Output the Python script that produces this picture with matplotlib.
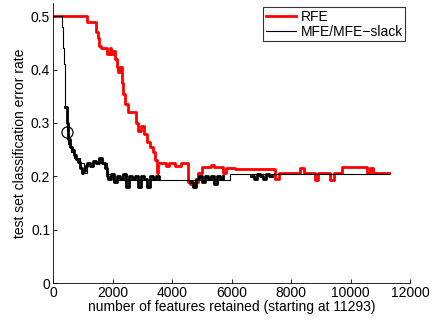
import matplotlib
matplotlib.use("Agg")
import matplotlib.pyplot as plt
import numpy as np

plt.rcParams['font.family'] = ['Liberation Sans', 'DejaVu Sans']

# RFE (red) step series
rfe_x = [0, 1150, 1450, 1500, 1550, 1600, 1820, 1900, 1950, 2000, 2100, 2150, 2200, 2250, 2320, 2360,
         2420, 2520, 2650, 2800, 2850, 2950, 3050, 3150, 3260, 3350, 3430, 3500, 3530, 3600, 3800,
         3900, 4100, 4300, 4540, 4600, 4770, 4870, 5000, 5300, 5400, 5700, 5800, 6120, 7460, 7600,
         7700, 8300, 8420, 8800, 8900, 9300, 9450, 9710, 10400, 10550, 10650, 10750, 11293]
rfe_y = [0.5, 0.49, 0.47, 0.46, 0.445, 0.44, 0.43, 0.44, 0.43, 0.435, 0.42, 0.405, 0.395, 0.405, 0.375, 0.355,
         0.335, 0.32, 0.32, 0.30, 0.285, 0.295, 0.28, 0.265, 0.255, 0.245, 0.23, 0.206, 0.225, 0.225, 0.22,
         0.225, 0.22, 0.225, 0.19, 0.185, 0.19, 0.206, 0.217, 0.222, 0.217, 0.206, 0.215, 0.213, 0.195, 0.206,
         0.206, 0.215, 0.206, 0.193, 0.206, 0.193, 0.206, 0.217, 0.217, 0.206, 0.215, 0.206, 0.206]

# MFE (thin black) series
mfe_x = [0, 290, 310, 330, 350, 380, 400, 420, 460, 520, 600, 700, 900, 1050, 1150, 1700, 1800, 2000,
         5950, 11293]
mfe_y = [0.5, 0.5, 0.48, 0.46, 0.44, 0.41, 0.37, 0.33, 0.285, 0.26, 0.245, 0.235, 0.225, 0.207, 0.225,
         0.225, 0.205, 0.193, 0.205, 0.205]

# MFE-slack (noisy black) segments
slack_a_x = [420, 470, 520, 570, 640, 700, 760, 840, 900, 970, 1000, 1075, 1140, 1250, 1350, 1450,
             1550, 1650, 1750, 1800, 1850, 1950, 2050, 2150, 2250, 2350, 2450, 2550, 2650, 2750, 2850,
             2950, 3050, 3150, 3250, 3350, 3450, 3550]
slack_a_y = [0.33, 0.30, 0.27, 0.255, 0.25, 0.24, 0.232, 0.227, 0.215, 0.207, 0.21, 0.22, 0.225,
             0.22, 0.228, 0.225, 0.235, 0.225, 0.215, 0.2, 0.195, 0.205, 0.19, 0.2, 0.195, 0.205, 0.18,
             0.2, 0.195, 0.2, 0.18, 0.2, 0.195, 0.18, 0.2, 0.195, 0.2, 0.195]
slack_b_x = [4600, 4700, 4800, 4900, 5000, 5100, 5200, 5300, 5400, 5500, 5600, 5700]
slack_b_y = [0.19, 0.18, 0.195, 0.2, 0.19, 0.2, 0.195, 0.2, 0.185, 0.2, 0.195, 0.2]
slack_c_x = [6650, 6750, 6850, 6950, 7050, 7150, 7250, 7350]
slack_c_y = [0.2, 0.195, 0.205, 0.2, 0.195, 0.205, 0.2, 0.2]

marker_x = [460]
marker_y = [0.283]

fig = plt.figure(figsize=(4.33, 3.23), dpi=100)
ax = fig.add_axes([0.1224, 0.1238, 0.8245, 0.867])

ax.plot(rfe_x, rfe_y, color='red', lw=2.0, drawstyle='steps-post', label='RFE', zorder=2)
ax.plot(mfe_x, mfe_y, color='black', lw=0.8, drawstyle='steps-post', label='MFE/MFE\u2212slack', zorder=3)
for sx, sy in [(slack_a_x, slack_a_y), (slack_b_x, slack_b_y), (slack_c_x, slack_c_y)]:
    ax.plot(sx, sy, color='black', lw=2.0, drawstyle='steps-post', zorder=3)
ax.plot(marker_x, marker_y, 'o', mfc='none', mec='black', ms=8, mew=0.9, zorder=4)

ax.set_xlim(0, 12000)
ax.set_ylim(0, 0.525)
ax.set_xticks([0, 2000, 4000, 6000, 8000, 10000, 12000])
ax.set_yticks([0, 0.1, 0.2, 0.3, 0.4, 0.5])
ax.set_yticklabels(['0', '0.1', '0.2', '0.3', '0.4', '0.5'])
ax.spines['top'].set_visible(False)
ax.spines['right'].set_visible(False)
ax.tick_params(direction='in', length=3, labelsize=10, width=0.6, pad=2)
for s in ['left', 'bottom']:
    ax.spines[s].set_linewidth(0.6)
ax.set_xlabel('number of features retained (starting at 11293)', fontsize=10, labelpad=0)
ax.set_ylabel('test set classification error rate', fontsize=10, labelpad=3)

leg = ax.legend(loc='upper right', bbox_to_anchor=(0.995, 0.995), fontsize=10, frameon=True,
                fancybox=False, edgecolor='black', handlelength=2.2, handletextpad=0.3,
                borderpad=0.2, labelspacing=0.05, borderaxespad=0.2)
leg.get_frame().set_linewidth(0.8)

fig.savefig('out.png', dpi=100)
